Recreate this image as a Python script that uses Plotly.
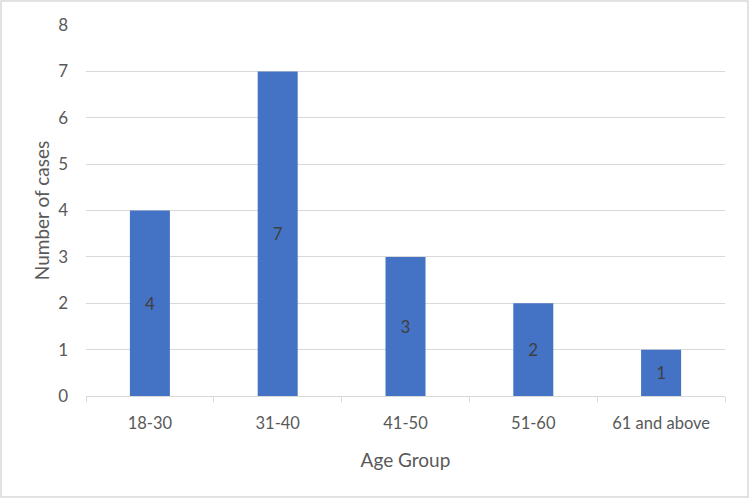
import plotly.graph_objects as go

categories = ["18-30", "31-40", "41-50", "51-60", "61 and above"]
cases = [4, 7, 3, 2, 1]
y_ticks = [0, 1, 2, 3, 4, 5, 6, 7, 8]

FONT = "Lato"
TXT = "#595959"

fig = go.Figure(go.Bar(
    x=categories, y=cases, text=[str(v) for v in cases],
    textposition="inside", insidetextanchor="middle",
    textfont=dict(family=FONT, size=17, color="#404040"),
    marker=dict(color="#4472C4", line=dict(width=0)),
))

L, R, T, B = 86, 25, 25, 103
W, H = 750, 499
pw, ph = W - L - R, H - T - B

def px(x):
    return (x - L) / pw

def py(y):
    return (H - B - y) / ph

fig.update_layout(
    width=W, height=H,
    margin=dict(l=L, r=R, t=T, b=B),
    paper_bgcolor="white", plot_bgcolor="white",
    bargap=0.687,
    showlegend=False,
    font=dict(family=FONT, color=TXT),
    xaxis=dict(
        type="category",
        showgrid=False,
        showline=True, linecolor="#d9d9d9", linewidth=1,
        ticks="outside", tickson="boundaries", ticklen=5, tickcolor="#d9d9d9",
        tickfont=dict(family=FONT, size=16.5, color=TXT),
        ticklabelstandoff=12,
        title=dict(text="Age Group", font=dict(family=FONT, size=19, color=TXT), standoff=21),
    ),
    yaxis=dict(
        range=[0, 8], tickvals=y_ticks,
        showgrid=True, gridcolor="#d9d9d9", gridwidth=1,
        zeroline=False, showline=False,
        tickfont=dict(family=FONT, size=17, color=TXT),
        ticklabelstandoff=17,
        title=dict(text="Number of cases", font=dict(family=FONT, size=19, color=TXT), standoff=3),
    ),
    shapes=[dict(
        type="rect", xref="paper", yref="paper",
        x0=px(1), x1=px(748), y0=py(497), y1=py(1),
        line=dict(color="#d9d9d9", width=1.5), fillcolor="rgba(0,0,0,0)", layer="below",
    )],
)

fig.write_html("out.html")
